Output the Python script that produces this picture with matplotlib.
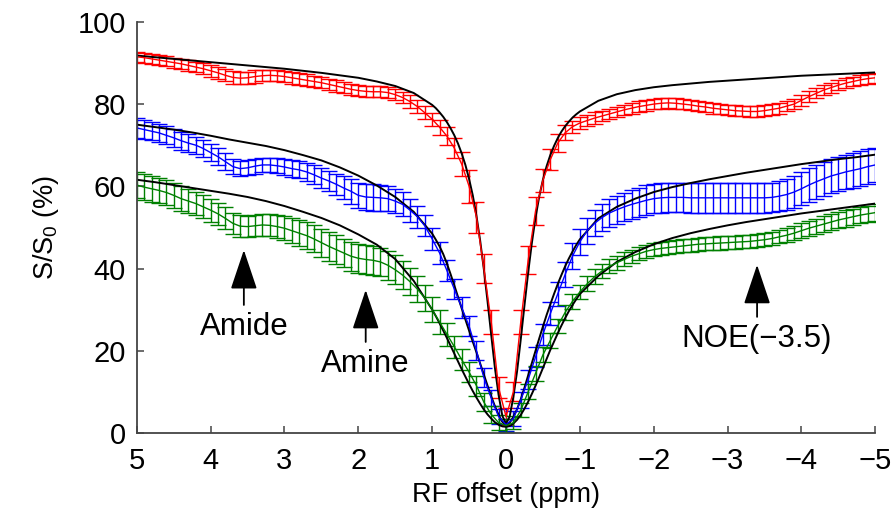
import numpy as np
import matplotlib.pyplot as plt

plt.rcParams['font.family'] = ['Liberation Sans', 'DejaVu Sans']
plt.rcParams['mathtext.default'] = 'regular'

# RF offsets of the measured points (ppm), 0.1 ppm steps from 5 to -5
offset = np.round(np.linspace(5, -5, 101), 2)

red_mean = [91.5, 91.3, 91.0, 90.7, 90.4, 90.1, 89.8, 89.4, 89.0, 88.6,
            88.1, 87.6, 87.0, 86.5, 86.3, 86.4, 86.7, 86.9, 87.0, 86.9,
            86.7, 86.4, 86.1, 85.8, 85.5, 85.2, 84.8, 84.4, 84.0, 83.6,
            83.3, 83.1, 83.0, 83.0, 82.8, 82.3, 81.6, 80.6, 79.4, 77.9,
            76.3, 74.4, 72.2, 69.3, 65.4, 60.0, 52.5, 40.0, 27.0, 11.0,
            4.0,
            10.0, 27.0, 42.0, 54.0, 61.5, 66.5, 70.5, 73.0, 74.5, 75.4,
            76.0, 76.6, 77.1, 77.6, 78.1, 78.6, 79.0, 79.4, 79.7, 80.0,
            80.2, 80.3, 80.2, 80.0, 79.8, 79.5, 79.3, 79.0, 78.8, 78.6,
            78.4, 78.3, 78.2, 78.2, 78.4, 78.7, 79.0, 79.5, 80.0, 80.9,
            81.8, 82.6, 83.4, 84.0, 84.6, 85.1, 85.5, 85.9, 86.2, 86.4]
red_err = [1.2, 1.2, 1.2, 1.2, 1.2, 1.2, 1.2, 1.3, 1.3, 1.3,
           1.4, 1.4, 1.5, 1.5, 1.5, 1.5, 1.5, 1.4, 1.4, 1.4,
           1.4, 1.4, 1.4, 1.4, 1.4, 1.4, 1.4, 1.4, 1.4, 1.4,
           1.4, 1.3, 1.3, 1.3, 1.3, 1.3, 1.4, 1.5, 1.6, 1.6,
           1.6, 1.8, 2.2, 2.4, 3.0, 4.0, 3.8, 3.5, 3.0, 2.5,
           2.0,
           2.3, 3.0, 3.4, 3.3, 2.8, 2.6, 2.2, 1.8, 1.5, 1.4,
           1.4, 1.4, 1.3, 1.3, 1.3, 1.3, 1.3, 1.3, 1.3, 1.3,
           1.3, 1.3, 1.3, 1.3, 1.3, 1.3, 1.3, 1.3, 1.3, 1.3,
           1.3, 1.3, 1.4, 1.4, 1.4, 1.4, 1.3, 1.3, 1.3, 1.3,
           1.3, 1.2, 1.2, 1.2, 1.2, 1.2, 1.2, 1.2, 1.2, 1.2]

blue_mean = [74.2, 73.8, 73.4, 73.0, 72.4, 71.8, 71.1, 70.5, 70.0, 69.2,
             68.2, 67.2, 66.0, 64.8, 64.3, 64.5, 64.9, 65.2, 65.2, 65.0,
             64.7, 64.3, 64.0, 63.5, 62.8, 62.0, 61.3, 60.5, 59.6, 58.8,
             57.8, 57.4, 57.3, 57.2, 57.0, 56.4, 55.6, 54.2, 52.6, 50.4,
             47.2, 43.8, 39.5, 35.0, 30.5, 26.0, 20.0, 13.5, 8.5, 4.0,
             2.0,
             3.5, 8.0, 13.0, 18.5, 24.0, 29.0, 33.8, 38.5, 43.0, 46.5,
             49.2, 51.0, 52.4, 53.5, 54.3, 55.0, 55.6, 56.1, 56.6, 57.0,
             57.2, 57.3, 57.3, 57.3, 57.2, 57.2, 57.2, 57.2, 57.2, 57.2,
             57.2, 57.2, 57.2, 57.2, 57.2, 57.3, 57.6, 58.0, 58.6, 59.4,
             60.3, 61.1, 61.8, 62.5, 63.0, 63.5, 63.9, 64.3, 64.8, 65.2]
blue_err = [2.4, 2.3, 2.2, 2.2, 2.2, 2.2, 2.2, 2.2, 2.1, 2.1,
            2.1, 2.0, 2.0, 1.9, 1.8, 1.8, 1.8, 1.8, 1.8, 1.8,
            1.9, 2.0, 2.1, 2.2, 2.3, 2.4, 2.5, 2.6, 2.8, 3.0,
            3.1, 3.2, 3.2, 3.2, 3.1, 3.0, 2.9, 2.8, 2.7, 2.6,
            2.6, 2.6, 2.6, 2.5, 2.5, 2.4, 2.3, 2.2, 2.0, 1.8,
            1.5,
            1.8, 2.0, 2.2, 2.4, 2.6, 2.8, 3.0, 3.0, 3.1, 3.1,
            3.2, 3.2, 3.3, 3.3, 3.4, 3.4, 3.5, 3.5, 3.6, 3.6,
            3.6, 3.6, 3.6, 3.6, 3.6, 3.6, 3.6, 3.6, 3.6, 3.6,
            3.6, 3.6, 3.6, 3.6, 3.6, 3.6, 3.7, 3.8, 3.9, 4.0,
            4.1, 4.1, 4.2, 4.2, 4.2, 4.2, 4.2, 4.2, 4.2, 4.2]

green_mean = [60.3, 59.8, 59.4, 59.0, 58.5, 57.8, 57.0, 56.4, 55.8, 55.0,
              54.2, 53.3, 52.2, 51.0, 50.3, 50.2, 50.4, 50.6, 50.5, 50.2,
              49.8, 49.2, 48.6, 48.0, 47.2, 46.3, 45.4, 44.6, 43.8, 43.0,
              42.5, 42.2, 42.0, 41.6, 40.8, 39.7, 38.4, 36.8, 35.0, 32.8,
              30.0, 27.0, 24.0, 21.0, 17.8, 14.8, 11.5, 7.5, 4.5, 2.5,
              1.8,
              2.5, 5.5, 10.0, 14.5, 19.0, 22.5, 26.0, 29.3, 32.0, 34.3,
              36.3, 38.0, 39.4, 40.5, 41.4, 42.2, 43.0, 43.6, 44.2, 44.6,
              44.9, 45.1, 45.3, 45.5, 45.7, 45.9, 46.0, 46.1, 46.2, 46.3,
              46.4, 46.5, 46.6, 46.8, 47.0, 47.3, 47.7, 48.1, 48.6, 49.2,
              49.8, 50.3, 50.8, 51.3, 51.8, 52.2, 52.6, 53.0, 53.3, 53.6]
green_err = [3.2, 3.2, 3.1, 3.1, 3.0, 3.0, 3.0, 2.9, 2.9, 2.8,
             2.8, 2.7, 2.7, 2.6, 2.6, 2.6, 2.6, 2.6, 2.7, 2.8,
             2.9, 3.0, 3.1, 3.2, 3.3, 3.4, 3.5, 3.5, 3.5, 3.5,
             3.5, 3.5, 3.5, 3.5, 3.5, 3.5, 3.4, 3.3, 3.2, 3.1,
             3.0, 2.9, 2.8, 2.7, 2.6, 2.5, 2.4, 2.2, 2.0, 1.8,
             1.5,
             1.6, 1.7, 1.8, 1.8, 1.8, 1.8, 1.8, 1.8, 1.8, 1.8,
             1.8, 1.8, 1.7, 1.7, 1.7, 1.7, 1.6, 1.6, 1.6, 1.6,
             1.6, 1.6, 1.6, 1.6, 1.6, 1.6, 1.6, 1.6, 1.6, 1.6,
             1.6, 1.6, 1.6, 1.6, 1.6, 1.6, 1.6, 1.7, 1.7, 1.8,
             1.8, 1.8, 1.9, 1.9, 1.9, 2.0, 2.0, 2.0, 2.0, 2.0]

# offsets where the fitted curves were read (denser near the water line)
fit_offset = np.round(np.concatenate([np.linspace(5, 1.25, 16),
                                      np.linspace(1, -1, 41),
                                      np.linspace(-1.25, -5, 16)]), 2)

red_fit = [91.8, 91.4, 91.0, 90.6, 90.2, 89.8, 89.4, 89.0, 88.6, 88.1,
           87.6, 87.0, 86.4, 85.5, 84.4, 82.7,
           79.8, 79.0, 78.0, 76.9, 75.6, 74.1, 72.4, 70.4, 68.0, 65.2,
           61.8, 57.8, 52.8, 46.8, 39.8, 32.0, 23.8, 15.8, 9.2, 4.2,
           2.2,
           4.0, 8.8, 15.0, 22.8, 31.0, 39.0, 46.2, 52.4, 57.5, 61.6,
           64.9, 67.6, 69.8, 71.7, 73.3, 74.6, 75.7, 76.7, 77.5, 78.2,
           80.8, 82.4, 83.4, 84.1, 84.6, 85.0, 85.4, 85.7, 86.0, 86.3,
           86.6, 86.9, 87.1, 87.3, 87.5, 87.7]

blue_fit = [75.0, 74.4, 73.8, 73.1, 72.3, 71.4, 70.6, 69.8, 68.8, 67.6,
            66.3, 64.6, 62.6, 60.2, 57.4, 53.8,
            48.5, 47.0, 45.4, 43.5, 41.2, 38.6, 35.9, 33.1, 30.3, 27.6,
            24.9, 22.2, 19.6, 16.9, 14.2, 11.5, 8.9, 6.5, 4.4, 2.7,
            1.9,
            2.5, 3.9, 5.8, 8.2, 11.0, 14.0, 17.0, 20.0, 23.0, 25.9,
            28.7, 31.3, 33.8, 36.2, 38.4, 40.5, 42.4, 44.1, 45.7, 47.1,
            52.2, 55.0, 57.0, 58.6, 59.8, 60.8, 61.7, 62.5, 63.3, 64.0,
            64.7, 65.4, 66.0, 66.6, 67.1, 67.7]

green_fit = [61.6, 61.0, 60.3, 59.6, 58.9, 58.2, 57.4, 56.4, 55.2, 53.8,
             52.3, 50.5, 48.3, 45.8, 42.3, 37.0,
             30.0, 28.4, 26.7, 24.9, 23.1, 21.2, 19.3, 17.4, 15.5, 13.7,
             11.9, 10.2, 8.6, 7.1, 5.7, 4.5, 3.5, 2.6, 2.0, 1.6,
             1.5,
             1.7, 2.3, 3.2, 4.4, 5.9, 7.6, 9.5, 11.5, 13.6, 15.8,
             18.0, 20.2, 22.2, 24.2, 26.1, 27.9, 29.6, 31.1, 32.5, 33.8,
             38.2, 41.6, 44.0, 45.9, 47.4, 48.6, 49.6, 50.5, 51.3, 52.0,
             52.7, 53.4, 54.0, 54.6, 55.2, 55.8]

# annotations: label, arrow tip (ppm, %), text centre (ppm, %)
notes = [('Amide', (3.55, 44.5), (3.55, 25.8)),
         ('Amine', (1.9, 34.8), (1.9, 16.8)),
         ('NOE(\u22123.5)', (-3.4, 40.9), (-3.4, 22.9))]

fig = plt.figure(figsize=(8.94, 5.21), dpi=100)
ax = fig.add_axes([0.153, 0.169, 0.826, 0.789])

for mean, err, col in [(red_mean, red_err, '#ff0000'),
                       (blue_mean, blue_err, '#0000ff'),
                       (green_mean, green_err, '#008000')]:
    ax.errorbar(offset, mean, yerr=err, color=col, lw=1, elinewidth=1,
                capsize=6, capthick=1)

for fit in [red_fit, blue_fit, green_fit]:
    ax.plot(fit_offset, fit, color='k', lw=1.4)

for label, tip, txt in notes:
    ax.annotate(label, xy=tip, xytext=txt, ha='center', va='center',
                fontsize=22.5,
                arrowprops=dict(arrowstyle='-|>,head_length=1.25,head_width=0.42',
                                mutation_scale=20, color='k', lw=1.3,
                                shrinkA=3, shrinkB=0))

ax.set_xlim(5, -5)
ax.set_ylim(0, 100)
ax.set_xticks(np.arange(5, -6, -1))
ax.set_yticks(np.arange(0, 101, 20))
ax.spines['top'].set_visible(False)
ax.spines['right'].set_visible(False)
for s in ['left', 'bottom']:
    ax.spines[s].set_color('#444444')
    ax.spines[s].set_linewidth(1.3)
ax.tick_params(direction='in', length=5, width=1.1, color='#444444',
               labelsize=21)
ax.tick_params(axis='x', pad=10)
ax.tick_params(axis='y', pad=8)
ax.set_xlabel('RF offset (ppm)', fontsize=19.5, labelpad=5)
ax.set_ylabel('S/S$_0$ (%)', fontsize=19.5, labelpad=12)

fig.savefig('out.png', dpi=100)
